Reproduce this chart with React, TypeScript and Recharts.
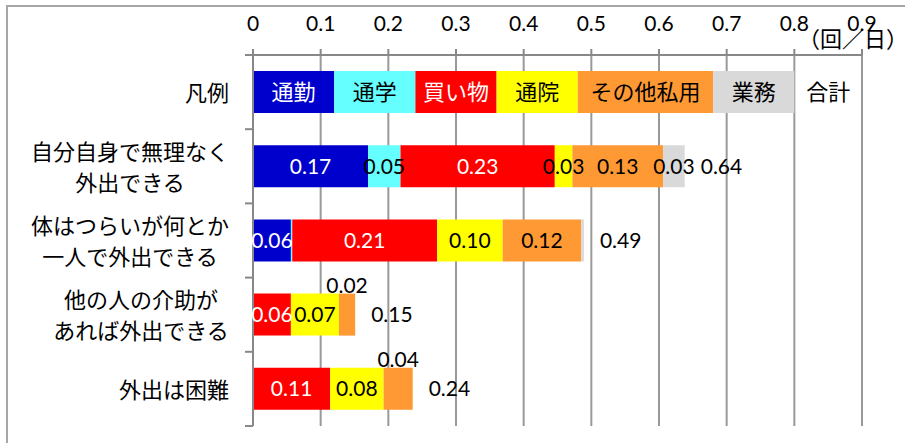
import { BarChart, Bar, XAxis, YAxis, CartesianGrid, LabelList } from "recharts";

const categories = [
  "凡例",
  "自分自身で無理なく\n外出できる",
  "体はつらいが何とか\n一人で外出できる",
  "他の人の介助が\nあれば外出できる",
  "外出は困難",
];

// 1行目は凡例の行（各項目の幅）
const commute = [0.12, 0.17, 0.056, 0, 0];
const school = [0.12, 0.048, 0.002, 0, 0];
const shopping = [0.12, 0.228, 0.214, 0.056, 0.114];
const hospital = [0.12, 0.026, 0.097, 0.071, 0.079];
const otherPrivate = [0.2, 0.134, 0.116, 0.024, 0.043];
const business = [0.12, 0.032, 0.004, 0, 0];
const totalSlot = [0.1, 0.1, 0.1, 0.1, 0.1];

const xTicks = [0, 0.1, 0.2, 0.3, 0.4, 0.5, 0.6, 0.7, 0.8, 0.9];

// ラベルをバーの上に出す項目
const raisedLabels = ["その他私用:3", "その他私用:4"];

const series = [
  { key: "commute", name: "通勤", values: commute, fill: "#0000CC", text: "#fff" },
  { key: "school", name: "通学", values: school, fill: "#66FFFF", text: "#000" },
  { key: "shopping", name: "買い物", values: shopping, fill: "#FF0000", text: "#fff" },
  { key: "hospital", name: "通院", values: hospital, fill: "#FFFF00", text: "#000" },
  { key: "otherPrivate", name: "その他私用", values: otherPrivate, fill: "#FF9933", text: "#000" },
  { key: "business", name: "業務", values: business, fill: "#D9D9D9", text: "#000" },
];

const totals = categories.map((_, i) =>
  series.reduce((s, ser) => s + ser.values[i], 0)
);

const data = categories.map((name, i) => {
  const row: Record<string, string | number> = { name };
  series.forEach((s) => (row[s.key] = s.values[i]));
  row.total = totalSlot[i];
  return row;
});

const FONT = "Lato, 'Noto Sans CJK JP', sans-serif";
const JP = "'Noto Sans CJK JP', sans-serif";
const AXIS = "#888";

function CategoryTick(props: any) {
  const { x, y, payload, index } = props;
  const lines = String(payload.value).split("\n");
  const fs = 22;
  const gap = 31;
  const maxChars = Math.max(...lines.map((l) => l.length));
  const cx = x - (maxChars * fs) / 2;
  const half = payload.offset || 37.1;
  const axisX = x + 24;
  return (
    <g>
      {lines.map((l, i) => (
        <text
          key={i}
          x={cx}
          y={y + 1 + (i - (lines.length - 1) / 2) * gap + fs * 0.36}
          textAnchor="middle"
          fontSize={fs}
          fontFamily={JP}
          fill="#000"
        >
          {l}
        </text>
      ))}
      <line x1={axisX - 8} x2={axisX} y1={y - half} y2={y - half} stroke={AXIS} strokeWidth={2} />
      {index === categories.length - 1 && (
        <line x1={axisX - 8} x2={axisX} y1={y + half} y2={y + half} stroke={AXIS} strokeWidth={2} />
      )}
    </g>
  );
}

function segmentLabel(s: (typeof series)[number]) {
  return (props: any) => {
    const { index } = props;
    const { x, y, width, height } = props.viewBox ?? props;
    const cx = x + width / 2;
    if (index === 0) {
      return (
        <text x={cx} y={y + height / 2 + 22 * 0.36} textAnchor="middle" fontSize={22} fontFamily={JP} fill={s.text}>
          {s.name}
        </text>
      );
    }
    const v = s.values[index];
    if (v < 0.01) return null;
    const raised = raisedLabels.includes(`${s.name}:${index}`);
    return (
      <text
        x={cx}
        y={raised ? y - 1 : y + height / 2 + 21 * 0.36}
        textAnchor="middle"
        fontSize={21}
        fontFamily={FONT}
        fill={raised ? "#000" : s.text}
      >
        {v.toFixed(2)}
      </text>
    );
  };
}

function totalLabel(props: any) {
  const { index } = props;
  const { x, y, width, height } = props.viewBox ?? props;
  if (index === 0) {
    return (
      <text x={x + width / 2} y={y + height / 2 + 22 * 0.36} textAnchor="middle" fontSize={22} fontFamily={JP} fill="#000">
        合計
      </text>
    );
  }
  return (
    <text x={x + 16} y={y + height / 2 + 21 * 0.36} textAnchor="start" fontSize={21} fontFamily={FONT} fill="#000">
      {totals[index].toFixed(2)}
    </text>
  );
}

export default function App() {
  return (
    <div
      style={{
        position: "absolute",
        left: 0,
        top: 0,
        width: 905,
        height: 443,
        overflow: "hidden",
        background: "#fff",
        fontFamily: FONT,
      }}
    >
      <div
        style={{
          position: "absolute",
          left: 6,
          top: 5,
          width: 1000,
          height: 1000,
          border: "2px solid #a6a6a6",
        }}
      />
      <BarChart
        width={905}
        height={443}
        data={data}
        layout="vertical"
        margin={{ top: 0, right: 43, bottom: 17, left: 0 }}
        style={{ position: "absolute", left: 0, top: 0 }}
      >
        <CartesianGrid horizontal={false} stroke="#999" strokeWidth={2} />
        <XAxis
          type="number"
          orientation="top"
          domain={[0, 0.9]}
          ticks={xTicks}
          allowDataOverflow
          interval={0}
          height={55}
          tickSize={6}
          tickMargin={18}
          axisLine={{ stroke: AXIS, strokeWidth: 2 }}
          tickLine={{ stroke: AXIS, strokeWidth: 2 }}
          tick={{ fontSize: 21, fill: "#000", fontFamily: FONT }}
        />
        <YAxis
          type="category"
          dataKey="name"
          width={253}
          interval={0}
          tickSize={8}
          tickMargin={16}
          tickLine={false}
          axisLine={{ stroke: AXIS, strokeWidth: 2 }}
          tick={<CategoryTick />}
        />
        {series.map((s) => (
          <Bar key={s.key} dataKey={s.key} stackId="a" fill={s.fill} barSize={42} isAnimationActive={false}>
            <LabelList dataKey={s.key} content={segmentLabel(s)} />
          </Bar>
        ))}
        <Bar dataKey="total" stackId="a" fill="transparent" barSize={42} isAnimationActive={false}>
          <LabelList dataKey="total" content={totalLabel} />
        </Bar>
      </BarChart>
      <div
        style={{
          position: "absolute",
          left: 798,
          top: 24,
          fontSize: 22,
          lineHeight: "26px",
          fontFamily: JP,
          whiteSpace: "nowrap",
          color: "#000",
        }}
      >
        （回／日）
      </div>
    </div>
  );
}
